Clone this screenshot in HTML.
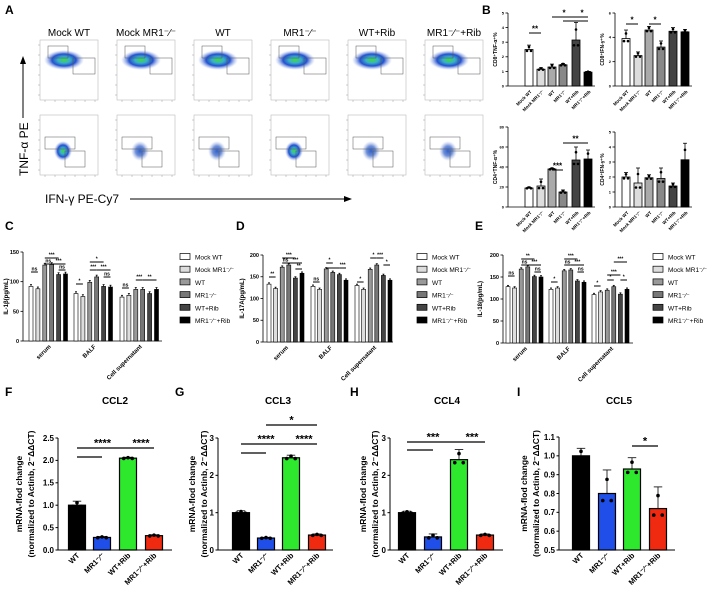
<!DOCTYPE html>
<html><head><meta charset="utf-8">
<style>
html,body{margin:0;padding:0;background:#fff;}
svg{display:block;font-family:"Liberation Sans",sans-serif;}
</style></head>
<body>
<svg id="fig" width="708" height="595" viewBox="0 0 708 595" xmlns="http://www.w3.org/2000/svg">
<defs>
<radialGradient id="blob" cx="50%" cy="50%" r="50%">
<stop offset="0" stop-color="#3cdc3c"/><stop offset="0.3" stop-color="#3ab0c8"/><stop offset="0.6" stop-color="#2450d0"/><stop offset="1" stop-color="#9ab0e8" stop-opacity="0"/>
</radialGradient>
<radialGradient id="blob2" cx="50%" cy="50%" r="50%">
<stop offset="0" stop-color="#3060c8"/><stop offset="0.5" stop-color="#7090d8"/><stop offset="1" stop-color="#b0c0e8" stop-opacity="0"/>
</radialGradient>
</defs>
<g id="root"></g>
</svg>
<script>
// ---------- Panel B data ----------
const bGroups = ["Mock WT","Mock MR1-/-","WT","MR1-/-","WT+Rib","MR1-/-+Rib"];
const bCD8TNF = [2.5,1.15,1.3,1.45,3.15,0.95];
const bCD8IFN = [3.9,2.5,4.6,3.2,4.5,4.45];
const bCD4TNF = [19,21,38,15,47,48];
const bCD4IFN = [2.0,1.6,1.95,1.9,1.4,3.15];
const bTicks5 = [0,1,2,3,4,5];
const bTicks6 = [0,2,4,6];
const bTicks80 = [0,20,40,60,80];
// ---------- Panels C-E data ----------
const cytoCategories = ["serum","BALF","Cell supernatant"];
const il1bSerum = [92,88,128,129,112,113];
const il1bBALF = [80,75,99,108,92,91];
const il1bCell = [74,77,87,87,80,87];
const il17Serum = [133,123,172,177,147,158];
const il17BALF = [128,121,168,160,155,142];
const il17Cell = [130,121,167,177,153,142];
const il18Serum = [128,125,168,173,151,150];
const il18BALF = [122,125,164,166,141,138];
const il18Cell = [110,116,120,128,111,122];
const cTicks = [0,50,100,150];
const dTicks = [0,50,100,150,200];
const eTicks = [0,50,100,150,200];
// ---------- Panels F-I data ----------
const mGroups = ["WT","MR1-/-","WT+Rib","MR1-/-+Rib"];
const ccl2 = [1.0,0.28,2.05,0.32];
const ccl3 = [1.0,0.32,2.47,0.40];
const ccl4 = [1.0,0.35,2.42,0.40];
const ccl5 = [1.0,0.80,0.93,0.72];
const ccl2Err = [0.09,0.02,0.02,0.02];
const ccl3Err = [0.05,0.02,0.07,0.03];
const ccl4Err = [0.04,0.08,0.27,0.03];
const ccl5Err = [0.04,0.125,0.06,0.115];
const fTicks = [0,0.5,1.0,1.5,2.0,2.5];
const gTicks = [0,1,2,3];
const iTicks = [0.5,0.6,0.7,0.8,0.9,1.0,1.1];

const NS="http://www.w3.org/2000/svg";
const root=document.getElementById('root');
function mk(tag,attrs,parent,text){const e=document.createElementNS(NS,tag);for(const k in attrs)e.setAttribute(k,attrs[k]);if(text!==undefined)e.textContent=text;(parent||root).appendChild(e);return e;}
function grp(name,parent){const g=mk('g',{},parent);


return g;}
function sup(txt){return txt.replace('-/-','\u207B\u2044\u207B');}

// ---------- Panel letters ----------
const letters=[["A",5,14],["B",482,14],["C",5,230],["D",236,230],["E",475,230],["F",5,396],["G",175,396],["H",350,396],["I",517,396]];
letters.forEach(l=>{const t=mk('text',{x:l[1],y:l[2],'font-size':12,'font-weight':'bold'},root,l[0]);

});

// ---------- Panel A flow plots ----------
const aTitles=["Mock WT","Mock MR1-/-","WT","MR1-/-","WT+Rib","MR1-/-+Rib"];
const aG=grp('panel-a-flow');
aTitles.forEach((t,i)=>{
  const x=40+i*77;
  const tt=mk('text',{x:x+29,y:36,'font-size':10,'text-anchor':'middle'},aG,sup(t));
  
  
  [40,115].forEach((y,r)=>{
    const b=mk('rect',{x:x,y:y,width:58,height:60,fill:'#fff',stroke:'#bbb','stroke-width':0.6},aG);
    
    
    for(let k=0;k<6;k++){mk('line',{x1:x-2,x2:x,y1:y+5+k*10,y2:y+5+k*10,stroke:'#888','stroke-width':0.4},aG);mk('line',{x1:x+5+k*10,x2:x+5+k*10,y1:y+60,y2:y+62,stroke:'#888','stroke-width':0.4},aG);}
    if(r===0){
      mk('ellipse',{cx:x+24,cy:y+20,rx:20,ry:10,fill:'url(#blob)'},aG);
      mk('rect',{x:x+8,y:y+6,width:20,height:12,fill:'none',stroke:'#555','stroke-width':0.5},aG);
      mk('rect',{x:x+33,y:y+18,width:22,height:16,fill:'none',stroke:'#555','stroke-width':0.5},aG);
    } else {
      mk('ellipse',{cx:x+23,cy:y+36,rx:9,ry:10,fill:(i===0||i===3)?'url(#blob)':'url(#blob2)'},aG);
      mk('rect',{x:x+5,y:y+22,width:30,height:12,fill:'none',stroke:'#555','stroke-width':0.5},aG);
      mk('rect',{x:x+25,y:y+36,width:20,height:16,fill:'none',stroke:'#555','stroke-width':0.5},aG);
    }
  });
});
const ay=mk('text',{transform:'translate(28,176) rotate(-90)','font-size':12},root,'TNF-\u03B1 PE');

mk('line',{x1:23,y1:118,x2:23,y2:62,stroke:'#000','stroke-width':1},root);
mk('polygon',{points:'20,64 26,64 23,56'},root);
const ax=mk('text',{x:45,y:203,'font-size':12},root,'IFN-\u03B3 PE-Cy7');

mk('line',{x1:130,y1:199,x2:346,y2:199,stroke:'#000','stroke-width':1},root);
mk('polygon',{points:'344,196 344,202 352,199'},root);

// ---------- generic bar chart ----------
function barChart(o){
  const g=grp(o.name);
  const vmin=o.vmin,vmax=o.vmax;
  const Y=v=>o.y0-(v-vmin)/(vmax-vmin)*(o.y0-o.y1);
  mk('line',{x1:o.ax,y1:o.y1,x2:o.ax,y2:o.y0,stroke:'#000','stroke-width':o.lw},g);
  mk('line',{x1:o.ax,y1:o.y0,x2:o.axEnd,y2:o.y0,stroke:'#000','stroke-width':o.lw},g);
  o.ticks.forEach(t=>{const yy=Y(t);mk('line',{x1:o.ax-2.5,x2:o.ax,y1:yy,y2:yy,stroke:'#000','stroke-width':o.lw},g);
    const tl=mk('text',{x:o.ax-4,y:yy+o.tfs*0.35,'font-size':o.tfs,'text-anchor':'end','font-weight':o.bold?'bold':'normal'},g,o.tickFmt?o.tickFmt(t):t);
    });
  o.values.forEach((v,i)=>{
    const cx=o.xs[i];const yy=Y(v);
    const r=mk('rect',{x:cx-o.bw/2,y:yy,width:o.bw,height:o.y0-yy,fill:o.colors[i%o.colors.length],stroke:'#000','stroke-width':o.blw},g);
    
    
    if(o.err){const e=o.err[i];mk('line',{x1:cx,x2:cx,y1:Y(v+e),y2:yy,stroke:'#000','stroke-width':0.8},g);mk('line',{x1:cx-o.bw/4,x2:cx+o.bw/4,y1:Y(v+e),y2:Y(v+e),stroke:'#000','stroke-width':0.8},g);}
    if(o.dots){[-1,0,1].forEach(d=>mk('circle',{cx:cx+d*o.bw/4,cy:Y(v+(d===0?0.6:-0.3)*(o.err?o.err[i]:0)),r:o.dr,fill:'#000'},g));}
  });
  if(o.labels) o.labels.forEach((l,i)=>{const lx=o.labelXs?o.labelXs[i]:o.xs[i];
    const t=mk('text',{transform:`translate(${lx+3},${o.y0+6}) rotate(-45)`,'font-size':o.lfs,'text-anchor':'end','font-weight':o.bold?'bold':'normal'},g,sup(l));
    });
  if(o.ylabel){o.ylabel.forEach((yl,k)=>{const t=mk('text',{transform:`translate(${o.ylx+k*12},${(o.y0+o.y1)/2}) rotate(-90)`,'font-size':o.ylfs,'text-anchor':'middle','font-weight':o.bold?'bold':'normal'},g,yl);
    });}
  if(o.title){const t=mk('text',{x:o.titleX,y:404,'font-size':10,'font-weight':'bold','text-anchor':'middle'},g,o.title);
    }
  (o.sig||[]).forEach(s=>{const yy=s[2];mk('line',{x1:o.xs[s[0]],x2:o.xs[s[1]],y1:yy,y2:yy,stroke:'#000','stroke-width':o.slw||1},g);
    if(s[3]){const t=mk('text',{x:(o.xs[s[0]]+o.xs[s[1]])/2,y:yy-1.5,'font-size':o.sfs||10,'font-weight':'bold','text-anchor':'middle'},g,s[3]);
    }});
  return Y;
}
// ---------- Panel B ----------
const bColors=["#fff","#ddd","#aaa","#888","#444","#000"];
const bxL=[529,541,552,563,576,588], bxR=[626,638,649,661,673,685];
barChart({name:'b-cd8-tnf',values:bCD8TNF,xs:bxL,bw:8,vmin:0,vmax:5,y0:86,y1:13,ax:508,axEnd:595,ticks:bTicks5,tfs:4,lw:0.8,blw:0.8,colors:bColors,err:[0.3,0.1,0.2,0.1,1.2,0.05],dots:true,dr:1.3,labels:bGroups,lfs:4.5,bold:true,ylabel:['CD8\u207ATNF-\u03B1\u207A%'],ylx:497,ylfs:5,
 sig:[[0,1,33,'**'],[2,4,17,'*'],[4,5,17,'*'],[3,5,21,'']],sfs:8});
barChart({name:'b-cd8-ifn',values:bCD8IFN,xs:bxR,bw:8,vmin:0,vmax:6,y0:86,y1:13,ax:615,axEnd:692,ticks:bTicks6,tfs:4,lw:0.8,blw:0.8,colors:bColors,err:[0.7,0.3,0.3,0.5,0.3,0.2],dots:true,dr:1.3,labels:bGroups,lfs:4.5,bold:true,ylabel:['CD8\u207AIFN-\u03B3\u207A%'],ylx:604,ylfs:5,
 sig:[[0,1,24,'*'],[2,3,24,'*']],sfs:8});
barChart({name:'b-cd4-tnf',values:bCD4TNF,xs:bxL,bw:8,vmin:0,vmax:80,y0:207,y1:127,ax:508,axEnd:595,ticks:bTicks80,tfs:4,lw:0.8,blw:0.8,colors:bColors,err:[1,7,1,2,13,9],dots:true,dr:1.3,labels:bGroups,lfs:4.5,bold:true,ylabel:['CD4\u207ATNF-\u03B1\u207A%'],ylx:497,ylfs:5,
 sig:[[2,3,170,'***'],[3,5,143,'**']],sfs:8});
barChart({name:'b-cd4-ifn',values:bCD4IFN,xs:bxR,bw:8,vmin:0,vmax:5,y0:207,y1:132,ax:615,axEnd:692,ticks:bTicks5,tfs:4,lw:0.8,blw:0.8,colors:bColors,err:[0.3,1,0.2,0.7,0.2,1.1],dots:true,dr:1.3,labels:bGroups,lfs:4.5,bold:true,ylabel:['CD4\u207AIFN-\u03B3\u207A%'],ylx:604,ylfs:5});

// ---------- Panels C-E ----------
const cColors=["#fff","#ddd","#999","#777","#444","#000"];
function cytoPanel(name,series,starts,step,axOpts,ylabel,ylx,legX){
  const xs=[];const vals=[];
  series.forEach((s,gi)=>s.forEach((v,i)=>{xs.push(starts[gi]+i*step);vals.push(v);}));
  const err=vals.map(()=>3);
  barChart(Object.assign({name:name,values:vals,xs:xs,bw:4,colors:cColors,err:err,lw:0.8,blw:0.6,tfs:5.5,lfs:6,bold:true,ylabel:[ylabel],ylx:ylx,ylfs:6,
    labels:cytoCategories,labelXs:starts.map(s=>s+2.5*step)},axOpts));
  const lg=grp(name+'-legend');
  bGroups.forEach((gname,i)=>{const yy=257+i*12.7;
    const r=mk('rect',{x:legX,y:yy-3.5,width:10,height:6,fill:cColors[i],stroke:'#000','stroke-width':0.7},lg);
    
    const t=mk('text',{x:legX+15,y:yy+2.5,'font-size':6.5},lg,sup(gname));
    });
}
cytoPanel('c-il1b-chart',[il1bSerum,il1bBALF,il1bCell],[31,76,122],6.9,{vmin:0,vmax:150,y0:341,y1:252,ax:23,axEnd:162,ticks:cTicks,
  sig:[[0,1,258+14,'ns'],[2,4,258,'***'],[2,3,264,'ns'],[3,5,264,'***'],[4,5,270,'ns'],[6,7,284,'*'],[8,10,262,'*'],[8,9,270,'***'],[9,11,270,'***'],[10,11,277,'ns'],[12,13,288,'ns'],[14,15,280,'***'],[15,17,280,'**']],sfs:5},'IL-1\u03B2(pg/mL)',8,180);
cytoPanel('d-il17a-chart',[il17Serum,il17BALF,il17Cell],[269,313,357],6.6,{vmin:0,vmax:200,y0:342,y1:255,ax:263,axEnd:393,ticks:dTicks,
  sig:[[0,1,277,'**'],[2,4,258,'***'],[2,3,263,'ns'],[3,5,263,'***'],[4,5,269,'**'],[6,7,282,'ns'],[8,9,263,'*'],[8,10,268,''],[10,11,268,'***'],[12,13,282,'*'],[14,15,258,'*'],[15,16,258,'***'],[16,17,265,'*']],sfs:5},'IL-17A(pg/mL)',244,417);
cytoPanel('e-il18-chart',[il18Serum,il18BALF,il18Cell],[508,551,594],6.6,{vmin:0,vmax:200,y0:343,y1:255,ax:503,axEnd:633,ticks:eTicks,
  sig:[[0,1,276,'ns'],[2,4,259,'**'],[2,3,265,'ns'],[3,5,265,'***'],[4,5,272,'ns'],[6,7,282,'*'],[8,10,259,'***'],[8,9,265,'ns'],[9,11,265,'***'],[10,11,272,'ns'],[12,13,286,'*'],[14,16,275,'***'],[15,17,262,'***'],[14,15,280,'*'],[16,17,280,'*']],sfs:5},'IL-18(pg/mL)',482,653);

// ---------- Panels F-I ----------
const mColors=["#000","#1f4fe8","#2ee82e","#f02a10"];
const ylab=['mRNA-flod change','(normalized to Actinb, 2\u207B\u0394\u0394CT)'];
const mCommon={bw:17,colors:mColors,lw:1,blw:1.2,tfs:8,lfs:7.5,bold:true,dots:true,dr:1.8,ylfs:8.5,slw:1.2,sfs:11};
barChart(Object.assign({name:'f-ccl2-chart',title:'CCL2',titleX:115,values:ccl2,err:ccl2Err,xs:[77,102,128,154],vmin:0,vmax:2.5,y0:550,y1:438,ax:58,axEnd:172,ticks:fTicks,tickFmt:t=>t.toFixed(1),labels:mGroups,ylabel:ylab,ylx:22,
 sig:[[0,1,457,''],[0,2,448,'****'],[2,3,448,'****']]},mCommon));
barChart(Object.assign({name:'g-ccl3-chart',title:'CCL3',titleX:278,values:ccl3,err:ccl3Err,xs:[241,266,291,317],vmin:0,vmax:3,y0:550,y1:438,ax:218,axEnd:333,ticks:gTicks,labels:mGroups,ylabel:ylab,ylx:195,
 sig:[[0,1,453,''],[0,2,444,'****'],[2,3,444,'****'],[1,3,425,'*']]},mCommon));
barChart(Object.assign({name:'h-ccl4-chart',title:'CCL4',titleX:447,values:ccl4,err:ccl4Err,xs:[407,433,459,485],vmin:0,vmax:3,y0:550,y1:438,ax:390,axEnd:503,ticks:gTicks,labels:mGroups,ylabel:ylab,ylx:366,
 sig:[[0,1,450,''],[0,2,442,'***'],[2,3,442,'***']]},mCommon));
barChart(Object.assign({name:'i-ccl5-chart',title:'CCL5',titleX:619,values:ccl5,err:ccl5Err,xs:[581,607,632,658],vmin:0.5,vmax:1.1,y0:550,y1:437,ax:559,axEnd:675,ticks:iTicks,tickFmt:t=>t.toFixed(1),labels:mGroups,ylabel:ylab,ylx:527,
 sig:[[2,3,446,'*']]},mCommon));
</script>
</body></html>
